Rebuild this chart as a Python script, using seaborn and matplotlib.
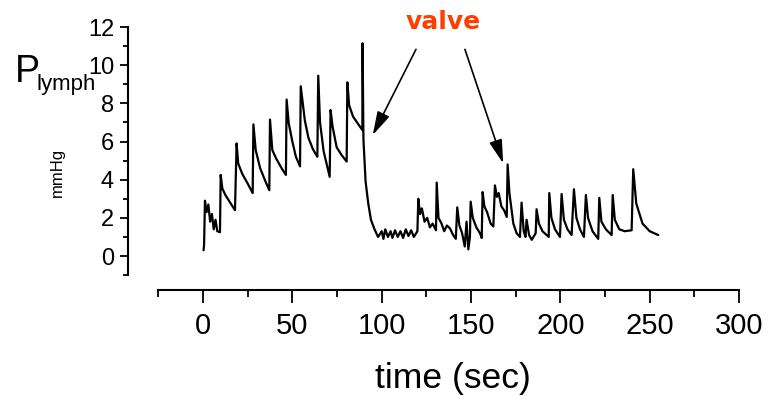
import numpy as np
import pandas as pd
import matplotlib
matplotlib.use('Agg')
import matplotlib.pyplot as plt
import seaborn as sns

# lymph pressure trace (time in sec, pressure in mmHg)
t_before = [0.3, 0.6, 1.1, 2.0, 3.0, 4.0, 5.0, 6.0, 7.0, 8.0, 9.5,
            9.9, 10.8, 12.5, 14.5, 16.5, 17.9,
            18.8, 19.7, 22.0, 25.0, 27.8,
            28.2, 29.5, 32.0, 35.0, 37.1,
            37.5, 38.8, 41.0, 44.0, 46.4,
            46.8, 48.0, 50.0, 52.0, 54.3,
            54.7, 57.0, 59.0, 61.5, 64.0,
            64.5, 65.5, 67.5, 70.9,
            71.4, 72.5, 74.8, 77.5, 80.4,
            80.8, 81.8, 84.0, 87.0, 89.2,
            89.3, 89.8, 91.0, 92.5, 94.0, 96.0, 98.0]
p_before = [0.3, 0.6, 2.9, 2.3, 2.7, 1.8, 2.2, 1.4, 1.9, 1.3, 1.25,
            4.25, 3.55, 3.2, 2.9, 2.6, 2.4,
            5.9, 4.85, 4.3, 3.8, 3.3,
            6.9, 5.55, 4.6, 3.9, 3.45,
            7.15, 5.55, 5.1, 4.6, 4.25,
            8.2, 6.95, 6.0, 5.2, 4.7,
            8.9, 7.1, 6.2, 5.6, 5.2,
            9.45, 7.0, 5.5, 4.15,
            7.65, 6.8, 5.7, 5.3, 4.95,
            9.1, 7.9, 7.3, 6.9, 6.6,
            11.15, 6.1, 3.9, 2.75, 1.9, 1.4, 1.0]

t_after = [100.0, 101.0, 102.0, 103.5, 105.0, 106.0, 107.5, 109.0, 110.5, 112.0,
           113.5, 115.0, 116.5, 118.0, 120.0,
           120.5, 121.5, 122.5, 124.0, 125.5, 127.0, 128.5, 130.4,
           130.8, 131.8, 133.5, 135.0, 136.5, 138.2, 140.0, 141.5,
           142.3, 143.5, 145.0, 146.5, 147.5, 148.5, 149.4,
           149.8, 151.0, 153.0, 155.0, 156.0,
           156.5, 157.5, 159.0, 161.0, 162.5,
           163.4, 164.5, 165.5, 167.0, 168.5, 170.0,
           170.5, 171.5, 173.7, 175.5, 177.4,
           178.3, 179.5, 180.5,
           181.1, 182.5, 184.0, 186.2,
           186.7, 188.0, 190.0, 192.3, 193.5,
           193.8, 195.0, 197.0, 199.8,
           200.7, 202.0, 204.0, 206.3,
           207.6, 209.0, 211.0, 213.2,
           214.3, 215.5, 218.0, 221.2,
           221.8, 223.0, 225.5, 228.7,
           229.3, 230.5, 233.0, 236.0, 239.9,
           240.8, 242.5, 246.0, 250.0, 254.8]
p_after = [1.3, 0.9, 1.4, 1.0, 1.3, 0.95, 1.35, 1.0, 1.3, 0.95,
           1.4, 1.05, 1.35, 1.0, 1.3,
           3.0, 2.2, 2.5, 1.8, 2.0, 1.5, 1.7, 1.35,
           3.85, 2.0, 1.7, 1.3, 1.6, 1.45, 1.1, 0.9,
           2.55, 1.6, 1.2, 0.5, 1.8, 0.35, 1.0,
           2.85, 2.0, 1.5, 1.2, 0.95,
           3.35, 2.6, 2.3, 1.7, 1.55,
           3.7, 3.1, 3.3, 2.6, 2.4, 2.05,
           4.8, 3.3, 1.7, 1.2, 1.0,
           2.8, 1.3, 1.0,
           1.9, 1.1, 0.85, 1.2,
           2.45, 1.7, 1.3, 1.1, 1.0,
           3.3, 2.0, 1.4, 1.0,
           3.25, 1.9, 1.4, 1.1,
           3.5, 2.0, 1.4, 1.0,
           3.2, 2.0, 1.3, 0.9,
           3.05, 1.8, 1.4, 1.1,
           3.2, 1.9, 1.4, 1.3, 1.35,
           4.55, 2.75, 1.7, 1.3, 1.1]

x_ticks = [0, 50, 100, 150, 200, 250, 300]
y_ticks = [0, 2, 4, 6, 8, 10, 12]

df = pd.DataFrame({'time': t_before + t_after, 'P': p_before + p_after})

sns.set_style('ticks')
plt.rcParams['font.family'] = ['Liberation Sans', 'DejaVu Sans']
plt.rcParams['text.color'] = 'black'

fig = plt.figure(figsize=(7.69, 3.96), dpi=100)
ax = fig.add_axes([0.1664, 0.2677, 0.7946, 0.664])

sns.lineplot(data=df, x='time', y='P', color='black', lw=1.6,
             estimator=None, sort=False, ax=ax)

ax.set_xlim(-42, 300)
ax.set_ylim(-1.78, 12)
sns.despine(ax=ax)
ax.spines['left'].set_bounds(-1, 12)
ax.spines['bottom'].set_bounds(-25, 300)
for s in ['left', 'bottom']:
    ax.spines[s].set_linewidth(1.5)
    ax.spines[s].set_color('black')

ax.set_xticks(x_ticks)
ax.set_yticks(y_ticks)
ax.set_xticks([-25, 25, 75, 125, 175, 225, 275], minor=True)
ax.set_yticks([-1, 1, 3, 5, 7, 9, 11], minor=True)
ax.tick_params(axis='x', which='major', length=9, width=1.3, labelsize=21, pad=7, colors='black')
ax.tick_params(axis='x', which='minor', length=5, width=1.3, colors='black')
ax.tick_params(axis='y', which='major', length=6, width=1.3, labelsize=17, pad=4, colors='black')
ax.tick_params(axis='y', which='minor', length=3.5, width=1.3, colors='black')
ax.set_xlabel('')
ax.set_ylabel('')

fig.text(0.589, 0.045, 'time (sec)', ha='center', va='center', fontsize=25.5, color='black')
fig.text(15 / 769, 1 - 82 / 396, 'P', ha='left', va='baseline', fontsize=27, color='black')
fig.text(36 / 769, 1 - 90 / 396, 'lymph', ha='left', va='baseline', fontsize=16, color='black')
fig.text(57 / 769, 1 - 172 / 396, 'mmHg', ha='center', va='center', fontsize=12,
         rotation=90, color='black')

# valve annotation
ax.text(134.3, 12.26, 'valve', ha='center', va='center', fontsize=18,
        fontweight='bold', color='#ff3d00', family='DejaVu Sans', clip_on=False)
arrow = dict(arrowstyle='-|>,head_length=0.9,head_width=0.25', color='black',
             lw=1.2, shrinkA=0, shrinkB=0, mutation_scale=16)
ax.annotate('', xy=(95.0, 6.34), xytext=(119.2, 10.83), arrowprops=arrow, annotation_clip=False)
ax.annotate('', xy=(168.0, 4.86), xytext=(146.6, 10.83), arrowprops=arrow, annotation_clip=False)

fig.savefig('out.png', dpi=100)
